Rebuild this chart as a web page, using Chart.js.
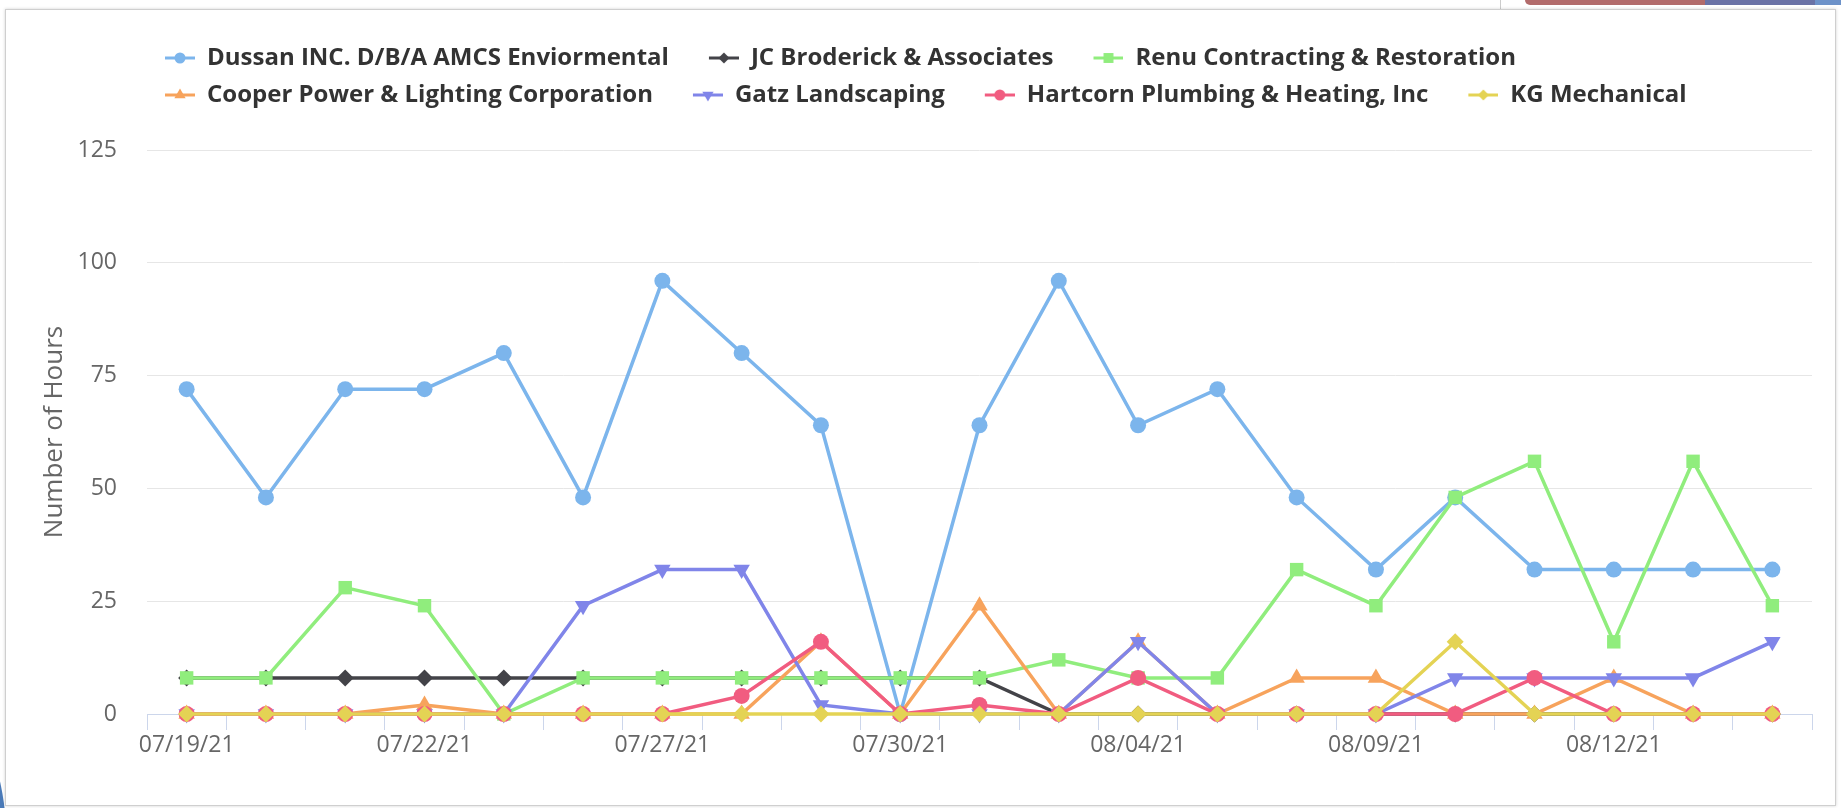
<!DOCTYPE html>
<html>
<head>
<meta charset="utf-8">
<script src="https://cdn.jsdelivr.net/npm/chart.js@4.4.1/dist/chart.umd.min.js"></script>
<style>
  html, body { margin: 0; padding: 0; background: #fff; }
  body { width: 1841px; height: 808px; position: relative; overflow: hidden; }
  .deco-red { position: absolute; left: 1525px; top: 0; width: 180px; height: 5px; background: #b26b6b; border-bottom-left-radius: 6px; }
  .deco-blue { position: absolute; left: 1705px; top: 0; width: 110px; height: 5px; background: #6a72a6; }
  .deco-blue2 { position: absolute; left: 1815px; top: 0; width: 26px; height: 5px; background: #6d92c9; }
  .deco-line { position: absolute; left: 1500px; top: 0; width: 1px; height: 9px; background: #ccc; }
  .deco-curve { position: absolute; left: -60px; top: 735px; width: 68px; height: 260px; border-radius: 50%; background: #4a7ab8; }
  .card { position: absolute; left: 5px; top: 9px; width: 1831px; height: 797px; box-sizing: border-box;
          border: 1px solid #cfcfcf; box-shadow: 0 0 3px rgba(0,0,0,0.18); background: #fff; }
  #chart { position: absolute; left: 5px; top: 8px; }
</style>
</head>
<body>
<div class="deco-line"></div>
<div class="deco-red"></div>
<div class="deco-blue"></div>
<div class="deco-blue2"></div>
<div class="deco-curve"></div>
<div class="card"></div>
<canvas id="chart" width="1831" height="798"></canvas>
<script>
// dates on the x axis (working days)
var dates = [
  '07/19/21', '07/20/21', '07/21/21', '07/22/21', '07/23/21', '07/26/21', '07/27/21',
  '07/28/21', '07/29/21', '07/30/21', '08/02/21', '08/03/21', '08/04/21', '08/05/21',
  '08/06/21', '08/09/21', '08/10/21', '08/11/21', '08/12/21', '08/13/21', '08/16/21'
];
// only these dates get a label under the axis
var shownDates = ['07/19/21', '07/22/21', '07/27/21', '07/30/21', '08/04/21', '08/09/21', '08/12/21'];
var yTicks = [0, 25, 50, 75, 100, 125];

var dussan     = [72, 48, 72, 72, 80, 48, 96, 80, 64, 0, 64, 96, 64, 72, 48, 32, 48, 32, 32, 32, 32];
var jcBroderick = [8, 8, 8, 8, 8, 8, 8, 8, 8, 8, 8, 0, 0, 0, 0, 0, 0, 0, 0, 0, 0];
var renu       = [8, 8, 28, 24, 0, 8, 8, 8, 8, 8, 8, 12, 8, 8, 32, 24, 48, 56, 16, 56, 24];
var cooper     = [0, 0, 0, 2, 0, 0, 0, 0, 16, 0, 24, 0, 16, 0, 8, 8, 0, 0, 8, 0, 0];
var gatz       = [0, 0, 0, 0, 0, 24, 32, 32, 2, 0, 0, 0, 16, 0, 0, 0, 8, 8, 8, 8, 16];
var hartcorn   = [0, 0, 0, 0, 0, 0, 0, 4, 16, 0, 2, 0, 8, 0, 0, 0, 0, 8, 0, 0, 0];
var kgMech     = [0, 0, 0, 0, 0, 0, 0, 0, 0, 0, 0, 0, 0, 0, 0, 0, 16, 0, 0, 0, 0];

var seriesNames = [
  'Dussan INC. D/B/A AMCS Enviormental', 'JC Broderick & Associates', 'Renu Contracting & Restoration',
  'Cooper Power & Lighting Corporation', 'Gatz Landscaping', 'Hartcorn Plumbing & Heating, Inc', 'KG Mechanical'
];
var seriesData = [dussan, jcBroderick, renu, cooper, gatz, hartcorn, kgMech];
var colors = ['#7cb5ec', '#434348', '#90ed7d', '#f7a35c', '#8085e9', '#f15c80', '#e4d354'];
var markers = ['circle', 'rectRot', 'rect', 'triangle', 'triangle', 'circle', 'rectRot'];
var markerRot = [0, 0, 0, 0, 180, 0, 0];
var markerSize = [8, 8.5, 9.5, 9.5, 9.5, 8, 8.5];

Chart.defaults.font.family = "'Open Sans', sans-serif";

// legend symbol: short line with the marker in the middle (left part left blank as spacing)
function legendIcon(i) {
  var c = document.createElement('canvas');
  c.width = 57; c.height = 22;
  var g = c.getContext('2d');
  g.strokeStyle = colors[i];
  g.lineWidth = 3;
  g.beginPath(); g.moveTo(27, 11); g.lineTo(57, 11); g.stroke();
  g.fillStyle = colors[i];
  Chart.helpers.drawPoint(g, {
    pointStyle: markers[i], radius: markers[i] === 'rect' ? 7 : (markers[i] === 'triangle' ? 6.5 : 5.5),
    rotation: markerRot[i], borderWidth: 0
  }, 42, 11);
  return c;
}
var icons = seriesNames.map(function (n, i) { return legendIcon(i); });

var datasets = seriesNames.map(function (name, i) {
  return {
    label: name,
    data: seriesData[i],
    borderColor: colors[i],
    backgroundColor: colors[i],
    borderWidth: 3.5,
    pointStyle: markers[i],
    rotation: markerRot[i],
    pointRadius: markerSize[i],
    pointBorderWidth: 0,
    pointBackgroundColor: colors[i],
    tension: 0,
    clip: false,
    order: seriesNames.length - i // later series drawn on top
  };
});

// move the legend to the left under the title area, like the original
var legendShift = {
  id: 'legendShift',
  afterLayout: function (chart) {
    var lg = chart.legend;
    var dx = 120 - lg.left, dy = 25 - lg.top;
    lg.left += dx; lg.right += dx;
    lg.top += dy; lg.bottom += dy;
  }
};

var ctx = document.getElementById('chart').getContext('2d');
var hoursChart = new Chart(ctx, {
  type: 'line',
  data: { labels: dates, datasets: datasets },
  plugins: [legendShift],
  options: {
    responsive: false,
    animation: false,
    layout: { padding: { left: 34, right: 24, top: 58, bottom: 0 } },
    plugins: {
      tooltip: { enabled: false },
      legend: {
        position: 'top',
        align: 'start',
        labels: {
          usePointStyle: true,
          pointStyleWidth: 57,
          padding: 13,
          color: '#333333',
          font: { size: 24, weight: 'bold' },
          generateLabels: function (chart) {
            return chart.data.datasets.map(function (ds, i) {
              return {
                text: ds.label, pointStyle: icons[i], fillStyle: colors[i],
                strokeStyle: colors[i], lineWidth: 0, hidden: false, datasetIndex: i, fontColor: '#333333'
              };
            });
          }
        }
      }
    },
    scales: {
      x: {
        offset: true,
        grid: {
          offset: true,
          drawOnChartArea: false,
          drawTicks: true,
          tickLength: 16,
          color: '#ccd6eb'
        },
        border: { color: '#ccd6eb', width: 1 },
        ticks: {
          autoSkip: false,
          maxRotation: 0,
          padding: 2,
          color: '#666666',
          font: { size: 23 },
          callback: function (val, idx) {
            var d = dates[idx];
            return shownDates.indexOf(d) >= 0 ? d : '';
          }
        },
        afterFit: function (scale) { scale.height = 92; }
      },
      y: {
        min: 0,
        max: 125,
        afterBuildTicks: function (scale) {
          scale.ticks = yTicks.map(function (v) { return { value: v }; });
        },
        grid: { color: '#e6e6e6', lineWidth: 1, drawTicks: false },
        border: { display: false },
        ticks: { padding: 30, color: '#666666', font: { size: 23 } },
        title: {
          display: true,
          text: 'Number of Hours',
          color: '#666666',
          font: { size: 26 },
          padding: 0
        },
        afterFit: function (scale) { scale.width = 108; }
      }
    }
  }
});
</script>
</body>
</html>
